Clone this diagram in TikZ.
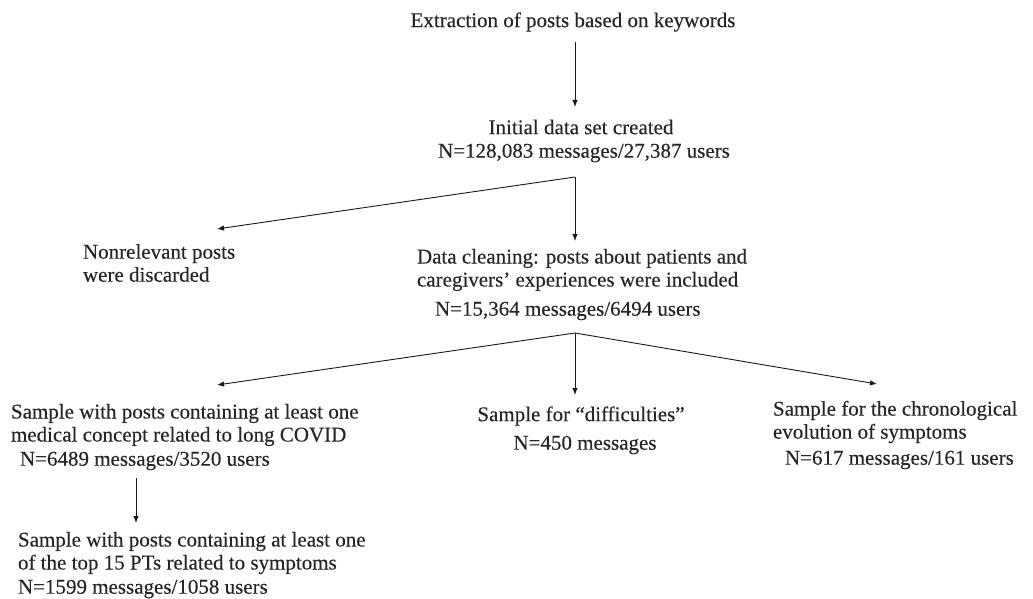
\documentclass[tikz,border=0pt]{standalone}
\usepackage{fontspec}
\setmainfont{Liberation Serif}[FakeBold=0.25]
\usetikzlibrary{arrows.meta}
\tikzset{
  txt/.style={inner sep=0pt, outer sep=0pt, font=\fontsize{21}{23}\selectfont, text=black!85},
  lblock/.style={txt, anchor=west, align=left},
  cblock/.style={txt, anchor=center, align=center},
  arr/.style={line width=0.9pt, draw=black!90, -{Latex[length=7pt,width=5.5pt]}}
}
\begin{document}
\begin{tikzpicture}[x=1pt,y=-1pt]
\useasboundingbox (0,0) rectangle (1033,599);
% texts
\node[cblock] (t1) at (573,22) {Extraction of posts based on keywords};
\node[cblock] (t2a) at (581,127) {Initial data set created};
\node[cblock] (t2b) at (584,153) {N=128,083 messages/27,387 users};
\node[lblock] (nr) at (83,263) {Nonrelevant posts\\were discarded};
\node[lblock] (dc) at (417,270) {Data cleaning: posts about patients and\\caregivers’ experiences were included};
\node[lblock] (dcn) at (435,311) {N=15,364 messages/6494 users};
\node[lblock] (s1) at (11,425) {Sample with posts containing at least one\\medical concept related to long COVID};
\node[lblock] (s1n) at (20,461) {N=6489 messages/3520 users};
\node[lblock] (s2) at (18,553) {Sample with posts containing at least one\\of the top 15 PTs related to symptoms};
\node[lblock] (s2n) at (18,589) {N=1599 messages/1058 users};
\node[cblock] (d1) at (581,416) {Sample for “difficulties”};
\node[cblock] (d1n) at (585,445) {N=450 messages};
\node[lblock] (c1) at (773,422) {Sample for the chronological\\evolution of symptoms};
\node[lblock] (c1n) at (785,460) {N=617 messages/161 users};
% connector points
\coordinate (a1s) at (575,42);
\coordinate (a1e) at (575,107);
\coordinate (b1) at (575,177);
\coordinate (b1d) at (575,241);
\coordinate (b1l) at (217,229);
\coordinate (b2) at (575,333);
\coordinate (b2l) at (217,385);
\coordinate (b2d) at (575,395);
\coordinate (b2r) at (877,384);
\coordinate (a3s) at (136,478);
\coordinate (a3e) at (136,523);
% connectors
\draw[arr] (a1s) -- (a1e);
\draw[arr] (b1) -- (b1d);
\draw[arr] (b1) -- (b1l);
\draw[arr] (b2) -- (b2l);
\draw[arr] (b2) -- (b2d);
\draw[arr] (b2) -- (b2r);
\draw[arr] (a3s) -- (a3e);
\end{tikzpicture}
\end{document}
